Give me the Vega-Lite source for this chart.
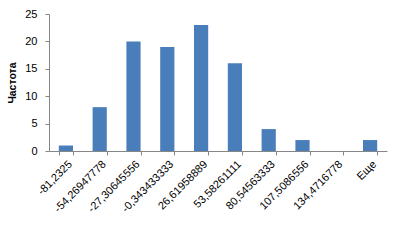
{
  "$schema": "https://vega.github.io/schema/vega-lite/v6.json",
  "autosize": "none",
  "width": 338,
  "height": 137,
  "padding": {"left": 49, "top": 14, "right": 16, "bottom": 94},
  "background": "white",
  "config": {
    "view": {"stroke": null},
    "font": "Liberation Sans"
  },
  "data": {
    "values": [
      {"bin": "-81,2325", "freq": 1},
      {"bin": "-54,26947778", "freq": 8},
      {"bin": "-27,30645556", "freq": 20},
      {"bin": "-0,343433333", "freq": 19},
      {"bin": "26,61958889", "freq": 23},
      {"bin": "53,58261111", "freq": 16},
      {"bin": "80,54563333", "freq": 4},
      {"bin": "107,5086556", "freq": 2},
      {"bin": "134,4716778", "freq": 0},
      {"bin": "Еще", "freq": 2}
    ]
  },
  "mark": {"type": "bar", "color": "#4A7EBB"},
  "encoding": {
    "x": {
      "field": "bin",
      "type": "nominal",
      "sort": null,
      "scale": {"paddingInner": 0.58, "paddingOuter": 0.29},
      "axis": {
        "title": null,
        "labelAngle": -45,
        "labelAlign": "right",
        "labelBaseline": "top",
        "labelFontSize": 11,
        "labelColor": "#000000",
        "labelPadding": 3,
        "tickBand": "extent",
        "tickSize": 4,
        "tickColor": "#868686",
        "domainColor": "#868686",
        "labelOverlap": false
      }
    },
    "y": {
      "field": "freq",
      "type": "quantitative",
      "scale": {"domain": [0, 25]},
      "axis": {
        "title": "Частота",
        "titleFontSize": 10.5,
        "titleFontWeight": "bold",
        "titleColor": "#000000",
        "titlePadding": 7,
        "values": [0, 5, 10, 15, 20, 25],
        "grid": false,
        "labelFontSize": 11,
        "labelColor": "#000000",
        "labelPadding": 8,
        "tickSize": 4,
        "tickColor": "#868686",
        "domainColor": "#868686"
      }
    }
  }
}
